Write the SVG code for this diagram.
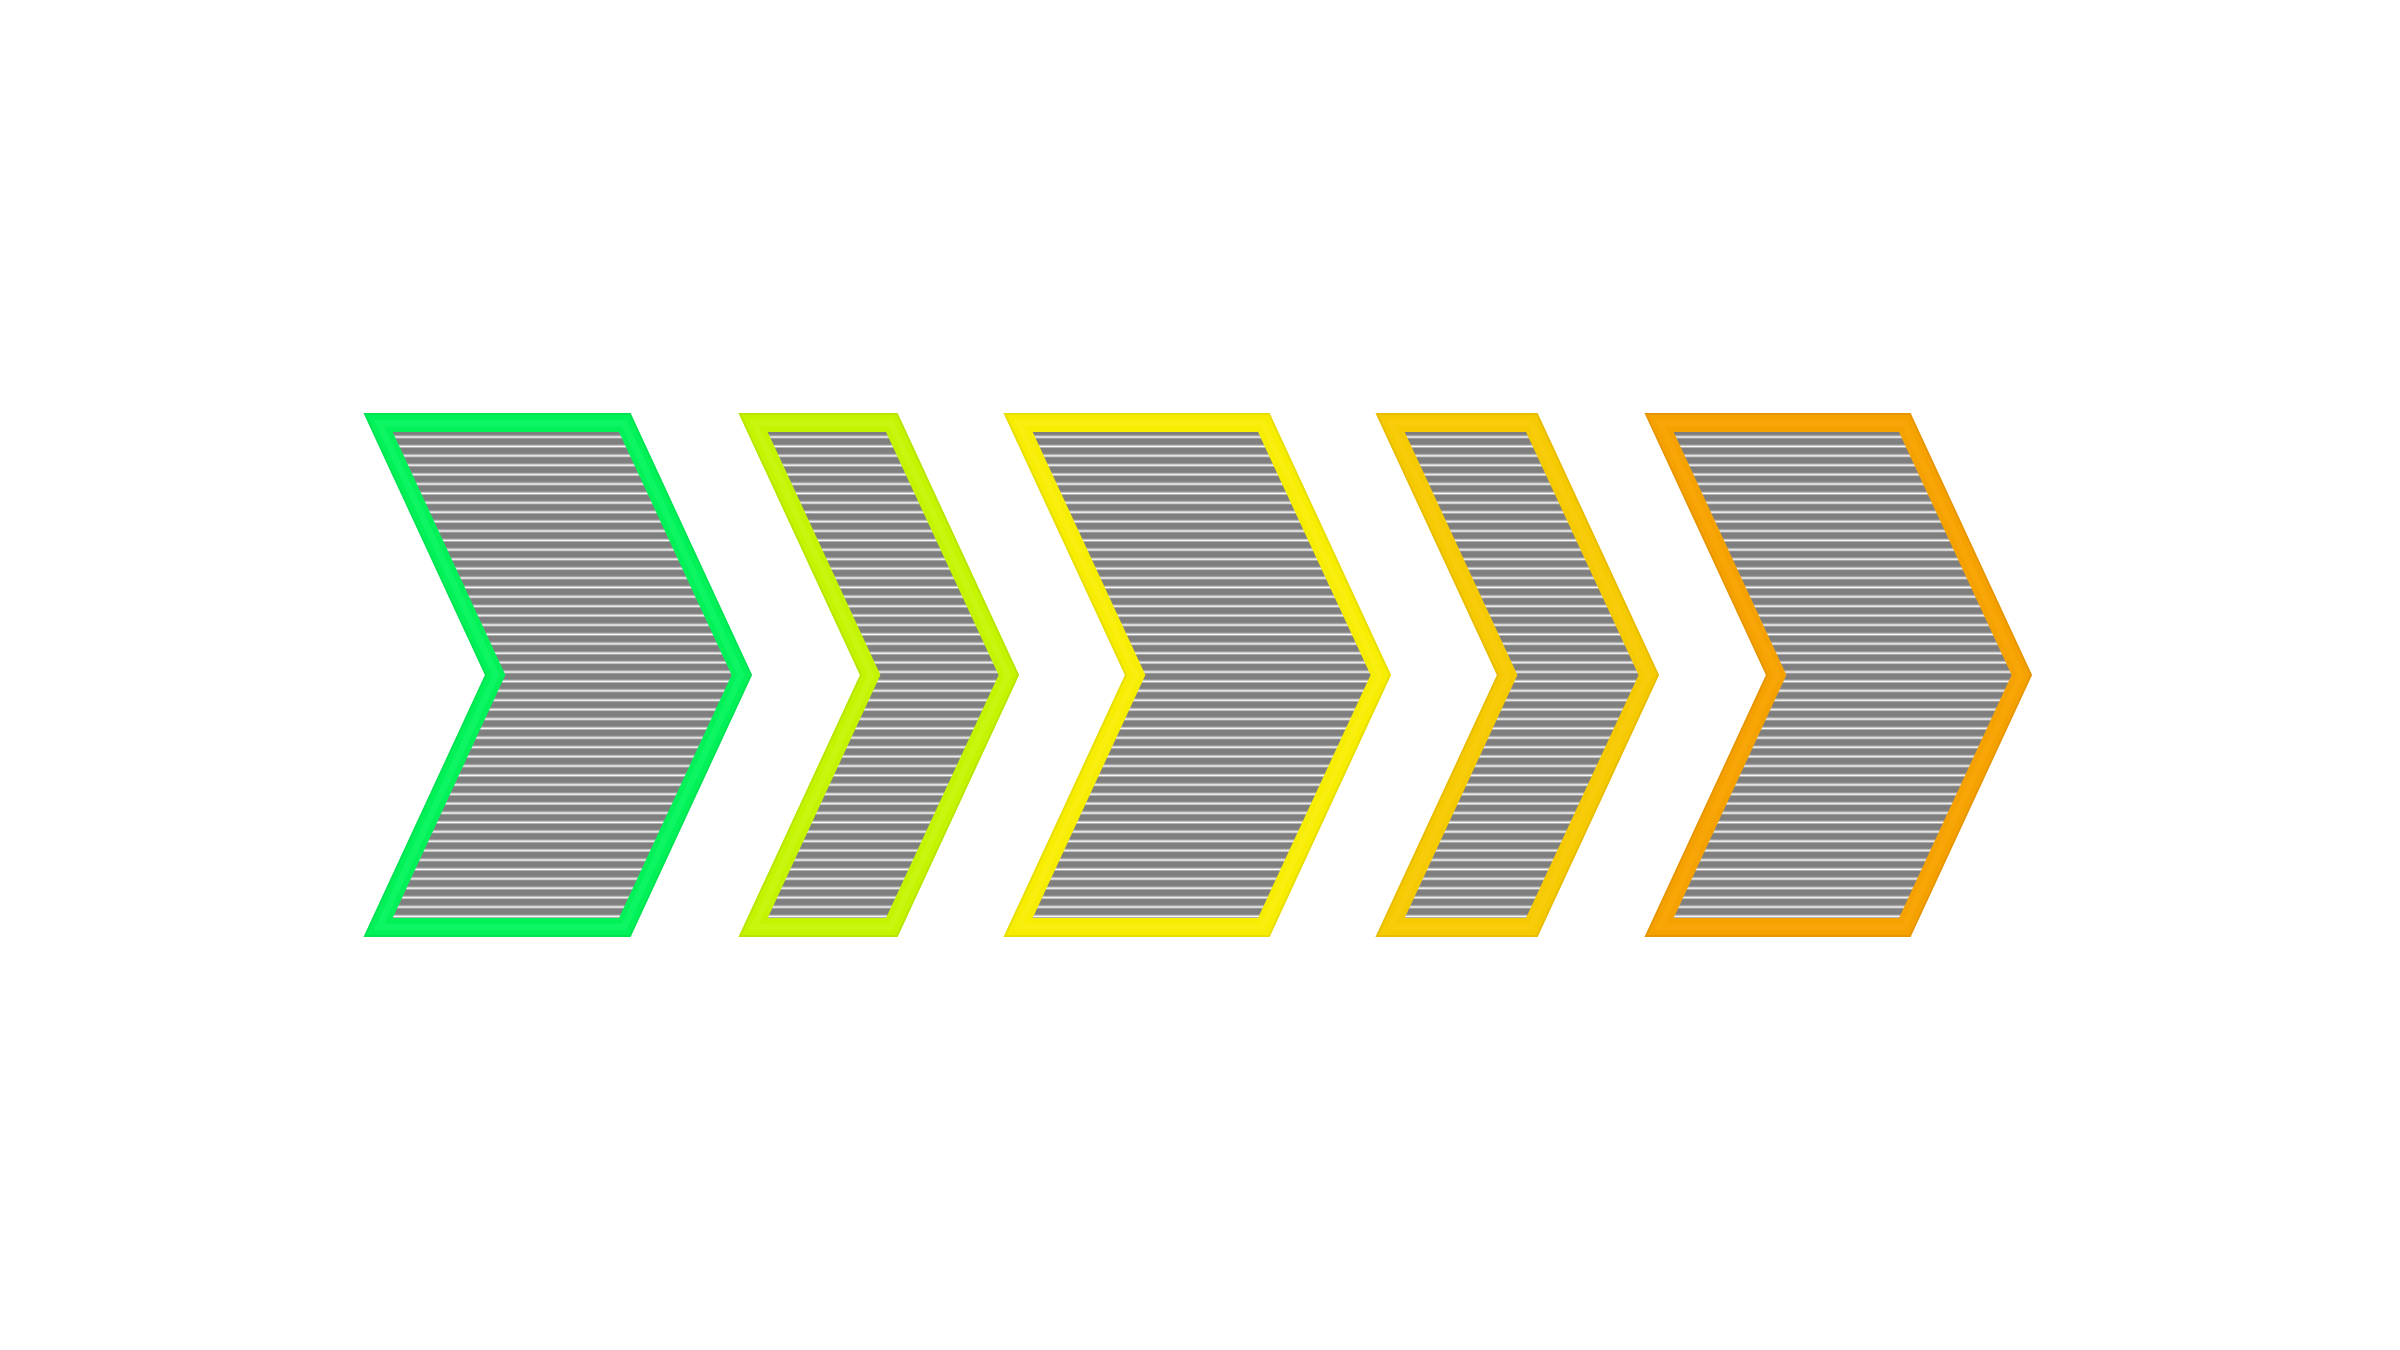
<svg xmlns="http://www.w3.org/2000/svg" width="2400" height="1350" viewBox="0 0 2400 1350">
  <style>
    .frame { stroke-width: 2; stroke-linejoin: miter; }
    .bevel { fill: none; stroke-width: 7; stroke-linejoin: miter; stroke-opacity: 0.22; }
    .stripes { fill: url(#stripePat); }
  </style>
  <defs>
    <pattern id="stripePat" patternUnits="userSpaceOnUse" x="0" y="431" width="20" height="9.4">
      <rect x="0" y="0" width="20" height="9.4" fill="#7f7f7f"/>
      <rect x="0" y="4.4" width="20" height="0.9" fill="#c4c4c4"/>
      <rect x="0" y="5.3" width="20" height="1.7" fill="#f7f7f7"/>
    </pattern>
  </defs>
  <rect x="0" y="0" width="2400" height="1350" fill="#ffffff"/>

  <g id="arrow1">
    <polygon class="frame" fill="#00f258" stroke="#00e452" points="365,414 630,414 751,675 630,936 365,936 486,675"/>
    <polygon class="bevel" stroke="#3dff88" points="379,423 624,423 741,675 624,927 379,927 496,675"/>
    <polygon class="stripes" points="392.7,432 619,432 731.6,675 619,918 392.7,918 505.4,675"/>
  </g>

  <g id="arrow2">
    <polygon class="frame" fill="#c4f400" stroke="#b8e600" points="740,414 897,414 1018,675 897,936 740,936 861,675"/>
    <polygon class="bevel" stroke="#dcff40" points="754,423 891,423 1008,675 891,927 754,927 871,675"/>
    <polygon class="stripes" points="767.7,432 886,432 998.6,675 886,918 767.7,918 880.4,675"/>
  </g>

  <g id="arrow3">
    <polygon class="frame" fill="#f6ed00" stroke="#e8de00" points="1005,414 1269,414 1390,675 1269,936 1005,936 1126,675"/>
    <polygon class="bevel" stroke="#fff640" points="1019,423 1263,423 1380,675 1263,927 1019,927 1136,675"/>
    <polygon class="stripes" points="1032.7,432 1258,432 1370.6,675 1258,918 1032.7,918 1145.4,675"/>
  </g>

  <g id="arrow4">
    <polygon class="frame" fill="#f6ca00" stroke="#e8bd00" points="1377,414 1537,414 1658,675 1537,936 1377,936 1498,675"/>
    <polygon class="bevel" stroke="#ffd630" points="1391,423 1531,423 1648,675 1531,927 1391,927 1508,675"/>
    <polygon class="stripes" points="1404.7,432 1526,432 1638.6,675 1526,918 1404.7,918 1517.4,675"/>
  </g>

  <g id="arrow5">
    <polygon class="frame" fill="#f5a200" stroke="#e89600" points="1646,414 1910,414 2031,675 1910,936 1646,936 1767,675"/>
    <polygon class="bevel" stroke="#ffb020" points="1660,423 1904,423 2021,675 1904,927 1660,927 1777,675"/>
    <polygon class="stripes" points="1673.7,432 1899,432 2011.6,675 1899,918 1673.7,918 1786.4,675"/>
  </g>
</svg>
